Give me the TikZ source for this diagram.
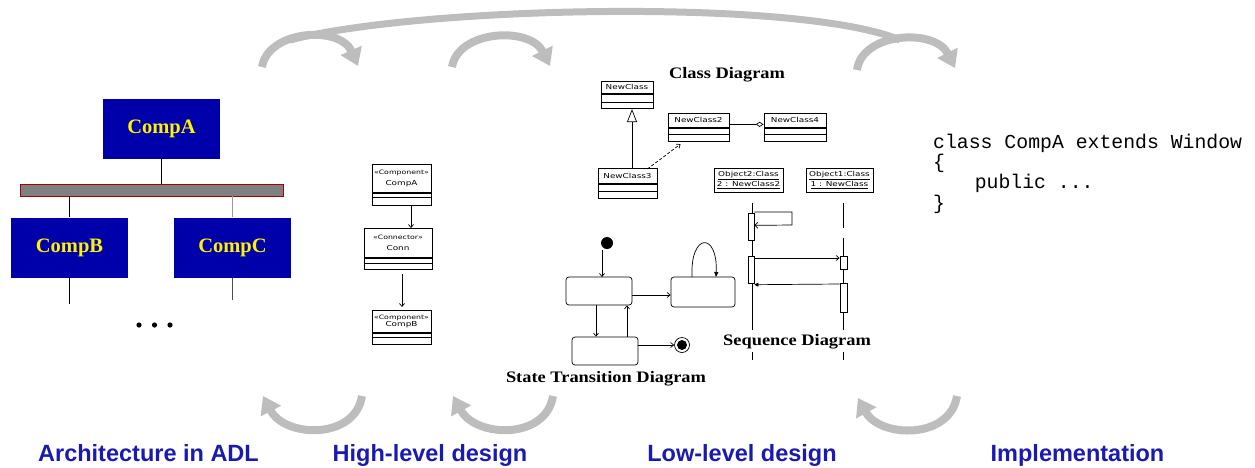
\documentclass[tikz,border=0pt]{standalone}
\usepackage{fontspec}
\setmainfont{Liberation Serif}
\setsansfont{Liberation Sans}
\setmonofont{Liberation Mono}
\newfontfamily\wideserif[FakeStretch=1.15]{Liberation Serif}
\newfontfamily\umlfont[FakeStretch=1.3]{DejaVu Sans}
\usetikzlibrary{arrows.meta,calc}

\definecolor{adlblue}{RGB}{0,0,170}
\definecolor{stageblue}{RGB}{26,26,178}
\definecolor{flowgray}{RGB}{189,189,189}
\definecolor{busgray}{RGB}{128,128,128}
\definecolor{busred}{RGB}{170,0,0}

% UML class box: name compartment plus two empty compartments
% #1 node name, #2 x centre, #3 top y, #4 width, #5/#6/#7 compartment heights, #8 text
\newcommand{\umlclassbox}[8]{%
  \node[umlname, minimum width=#4pt, minimum height=#5pt, anchor=north] (#1) at (#2,#3) {#8};
  \node[umlcomp, minimum width=#4pt, minimum height=#6pt, anchor=north] (#1-a) at (#1.south) {};
  \node[umlcomp, minimum width=#4pt, minimum height=#7pt, anchor=north] (#1-b) at (#1-a.south) {};
}
\newcommand{\stereotype}[1]{{\umlfont\fontsize{6}{6.5}\selectfont\guillemotleft#1\guillemotright}}

\begin{document}
\begin{tikzpicture}[x=1pt,y=-1pt,
  adlbox/.style={fill=adlblue, text=yellow, font=\fontsize{20.5}{22}\selectfont\bfseries,
    minimum width=117pt, minimum height=60pt, inner sep=0pt},
  wire/.style={line width=0.9pt},
  umlname/.style={draw, line width=0.7pt, fill=white, inner sep=0.5pt, align=center,
    font=\umlfont\fontsize{6.8}{7.5}\selectfont},
  umlcomp/.style={draw, line width=0.7pt, fill=white, inner sep=0pt},
  uline/.style={line width=0.7pt},
  barb/.style={uline, -{Straight Barb[length=3pt,width=5pt]}},
  flow/.style={draw=flowgray, line width=8pt, -{Triangle[width=22pt,length=17pt]}},
  flowbody/.style={draw=flowgray, line width=7pt},
  stagelabel/.style={text=stageblue, font=\sffamily\bfseries\fontsize{23.5}{26}\selectfont, anchor=base},
  diagtitle/.style={font=\wideserif\bfseries\fontsize{16}{18}\selectfont},
  state/.style={draw, line width=0.7pt, rounded corners=3pt, inner sep=0pt},
  dot/.style={circle, fill=black, inner sep=0pt, minimum size=5.2pt},
  activation/.style={draw, line width=0.7pt, fill=white, inner sep=0pt, minimum width=6pt}
]
\useasboundingbox (0,0) rectangle (1255,467);

% ---------- flow arrows between the stages ----------
\coordinate (fa0) at (262,67);  \coordinate (fa1) at (358,66);
\coordinate (fb0) at (452,67);  \coordinate (fb1) at (550,66);
\coordinate (fc0) at (857,70);  \coordinate (fc1) at (955,68);
\coordinate (arc0) at (290,40); \coordinate (arc1) at (900,40);
\draw[flowbody] (arc0) .. controls (420,6) and (800,-2) .. (arc1);
\draw[flow] (fa0) .. controls (268,30) and (340,25) .. (fa1);
\draw[flow] (fb0) .. controls (458,30) and (530,26) .. (fb1);
\draw[flow] (fc0) .. controls (862,32) and (935,28) .. (fc1);

\coordinate (fd0) at (362,396); \coordinate (fd1) at (263,396);
\coordinate (fe0) at (553,396); \coordinate (fe1) at (453,396);
\coordinate (ff0) at (957,396); \coordinate (ff1) at (858,398);
\draw[flow] (fd0) .. controls (355,440) and (285,438) .. (fd1);
\draw[flow] (fe0) .. controls (546,440) and (476,438) .. (fe1);
\draw[flow] (ff0) .. controls (950,440) and (880,438) .. (ff1);

% ---------- architecture in ADL ----------
\node[adlbox] (compA) at (161.5,128.5) {CompA};
\node[draw=busred, fill=busgray, line width=0.9pt, minimum width=263pt, minimum height=12pt, inner sep=0pt] (bus) at (151.5,190) {};
\node[adlbox] (compB) at (69.5,247.5) {CompB};
\node[adlbox] (compC) at (232.5,247.5) {CompC};
\draw[wire] (compA.south) -- (compA.south |- bus.north);
\draw[wire] (compB.north) -- (compB.north |- bus.south);
\draw[wire, draw=black!40] (compC.north) -- (compC.north |- bus.south);
\coordinate (bEnd) at (69.5,304);
\coordinate (cEnd) at (232.5,300);
\draw[wire] (compB.south) -- (bEnd);
\draw[wire, draw=black!70] (compC.south) -- (cEnd);
\node[dot] (dot1) at (139,325) {};
\node[dot] (dot2) at (154.5,325) {};
\node[dot] (dot3) at (170,325) {};

% ---------- high-level design ----------
\umlclassbox{hA}{401.5}{164}{59}{28}{4}{8}{\stereotype{Component}\\[3pt]CompA}
\umlclassbox{hConn}{398}{228}{68}{29}{5}{6}{\stereotype{Connector}\\[4pt]Conn}
\umlclassbox{hB}{401.5}{310}{59}{22}{4}{7}{\stereotype{Component}\\[0pt]CompB}
\draw[barb] ($(hA-b.south)+(9.5,0)$) -- ($(hConn.north)+(13,0)$);
\draw[barb, shorten <=4pt, shorten >=3pt] ($(hConn-b.south)+(4,0)$) -- ($(hB.north)+(0.5,0)$);

% ---------- low-level design: class diagram ----------
\node[diagtitle] (tClass) at (727,75) {Class Diagram};
\umlclassbox{cNew}{627}{81}{52}{12}{8}{6}{NewClass}
\umlclassbox{cNew3}{627.5}{168}{59}{15}{7}{7}{NewClass3}
\umlclassbox{cNew2}{698.5}{113}{61}{14}{6}{7}{NewClass2}
\umlclassbox{cNew4}{795}{113}{62}{14}{6}{7}{NewClass4}
\draw[uline, -{Triangle[open,length=13pt,width=10pt]}] ($(cNew3.north)+(4.5,0)$) -- ($(cNew-b.south)+(5,0)$);
\draw[uline, -{Diamond[open,length=8pt,width=5pt]}] ($(cNew2.east)+(0,4)$) -- ($(cNew4.west)+(0,4)$);
\draw[uline, dash pattern=on 3pt off 2pt, -{Straight Barb[length=3pt,width=5pt]}] ($(cNew3.north east)+(-10,1)$) -- ($(cNew2-b.south)+(-18,2)$);

% ---------- low-level design: sequence diagram ----------
\node[umlname, minimum width=69pt, minimum height=24pt, font=\umlfont\fontsize{6.8}{8}\selectfont] (obj2) at (748.5,180)
  {\underline{Object2:Class}\\\underline{2 : NewClass2}};
\node[umlname, minimum width=67pt, minimum height=24pt, font=\umlfont\fontsize{6.8}{8}\selectfont] (obj1) at (839.5,180)
  {\underline{Object1:Class}\\\underline{1 : NewClass}};
\coordinate (life2) at (752,360);
\coordinate (life1) at (843.5,360);
\draw[uline, dash pattern=on 127pt off 22pt on 10pt off 100pt] ($(obj2.south)+(3.5,11)$) -- (life2);
\draw[uline, dash pattern=on 25pt off 10pt on 92pt off 22pt on 10pt off 100pt] ($(obj1.south)+(4,11)$) -- (life1);
\node[activation, minimum height=27pt, anchor=north] (act2a) at (751,213) {};
\node[activation, minimum height=27pt, anchor=north] (act2b) at (751,256) {};
\node[activation, minimum width=7pt, minimum height=13pt, anchor=north] (act1a) at (843.5,256) {};
\node[activation, minimum width=7pt, minimum height=29pt, anchor=north] (act1b) at (843.5,283) {};
\coordinate (selfR) at (792,212);
\draw[uline, -{Straight Barb[length=3pt,width=6pt]}] ($(act2a.north east)+(0,-1)$) -- (selfR) -- (selfR |- 0,225) -- ($(act2a.east)+(0,-1.5)$);
\draw[barb] ($(act2b.north east)+(0,2)$) -- ($(act1a.north west)+(0,2)$);
\draw[uline, -{Triangle[length=4pt,width=4pt]}] ($(act1b.north west)+(0,1)$) -- ($(act2b.south east)+(0,1)$);
\node[diagtitle] (tSeq) at (797,342) {Sequence Diagram};

% ---------- low-level design: state transition diagram ----------
\node[circle, fill=black, inner sep=0pt, minimum size=12pt] (init) at (607,243) {};
\node[state, minimum width=66pt, minimum height=28pt] (s1) at (599,291) {};
\node[state, minimum width=64pt, minimum height=30pt] (s2) at (703,292) {};
\node[state, minimum width=66pt, minimum height=28pt] (s3) at (605,351) {};
\node[circle, draw, line width=0.7pt, inner sep=0pt, minimum size=15pt] (fin) at (682,345) {};
\node[circle, fill=black, inner sep=0pt, minimum size=10pt] (finIn) at (fin) {};
\draw[barb] (602,250) -- (602 ,277);
\draw[barb] ($(s1.east)+(0,4)$) -- ($(s2.west)+(0,3)$);
\draw[uline, -{Triangle[length=5pt,width=4pt]}] (692,277) .. controls (690,232) and (718,232) .. (716,277);
\draw[barb] ($(s1.south)+(-3,0)$) -- ($(s3.north)+(-9,0)$);
\draw[barb] ($(s3.north)+(22,0)$) -- ($(s1.south)+(28,0)$);
\draw[barb] ($(s3.east)+(0,-6)$) -- (fin.west);
\node[diagtitle] (tState) at (606,379) {State Transition Diagram};

% ---------- implementation ----------
\node[anchor=base west, align=left, inner sep=0pt, font=\ttfamily\fontsize{19.8}{20.4}\selectfont] (code) at (933,209.2)
  {class CompA extends Window\\\{\\\hspace*{2.1em}public ...\\\}};

% ---------- stage labels ----------
\node[stagelabel] (lADL) at (148.5,461) {Architecture in ADL};
\node[stagelabel] (lHigh) at (430,461) {High-level design};
\node[stagelabel] (lLow) at (742,461) {Low-level design};
\node[stagelabel] (lImpl) at (1077.5,461) {Implementation};
\end{tikzpicture}
\end{document}
